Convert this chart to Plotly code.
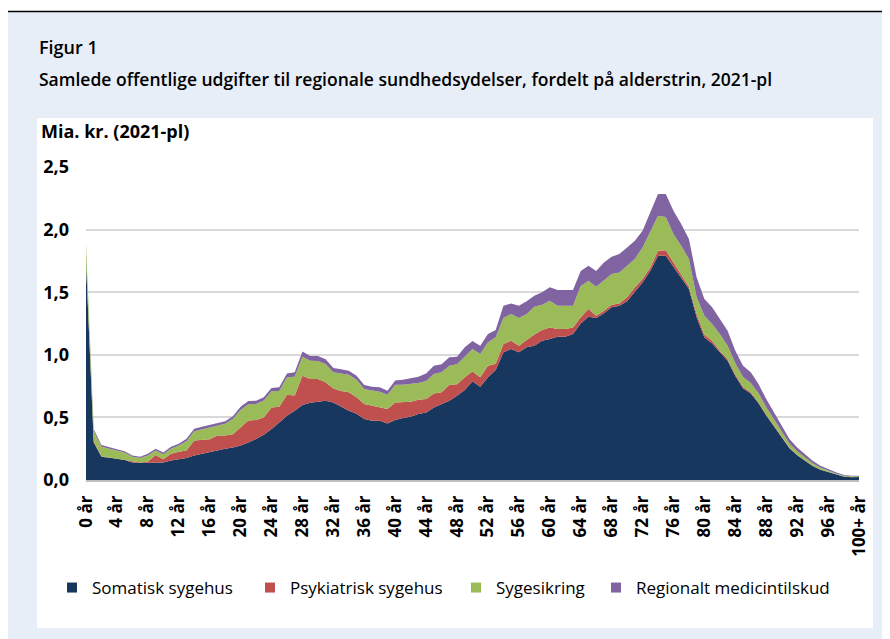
import plotly.graph_objects as go

ages = list(range(0, 101))
tick_vals = list(range(0, 101, 4))
tick_text = [f"{a} år" for a in range(0, 100, 4)] + ["100+ år"]

somatisk = [1.74, 0.30, 0.186, 0.175, 0.17, 0.16, 0.14, 0.135, 0.135, 0.14,
            0.14, 0.155, 0.165, 0.175, 0.195, 0.21, 0.225, 0.235, 0.25, 0.26,
            0.275, 0.30, 0.327, 0.362, 0.407, 0.46, 0.513, 0.553, 0.60, 0.617,
            0.625, 0.633, 0.62, 0.585, 0.553, 0.53, 0.487, 0.474, 0.474, 0.452,
            0.48, 0.495, 0.505, 0.527, 0.54, 0.58, 0.607, 0.633, 0.673, 0.719,
            0.788, 0.745, 0.82, 0.879, 1.02, 1.046, 1.02, 1.06, 1.073, 1.113,
            1.126, 1.145, 1.145, 1.166, 1.25, 1.304, 1.294, 1.331, 1.379, 1.392,
            1.427, 1.498, 1.578, 1.672, 1.792, 1.792, 1.704, 1.618, 1.525, 1.299,
            1.139, 1.091, 1.019, 0.953, 0.83, 0.733, 0.69, 0.614, 0.515, 0.429,
            0.339, 0.253, 0.197, 0.154, 0.112, 0.082, 0.063, 0.041, 0.027, 0.022,
            0.023]
psykiatrisk = [0.0, 0.01, 0.004, 0.005, 0.005, 0.005, 0.01, 0.005, 0.01, 0.06,
               0.025, 0.055, 0.06, 0.06, 0.12, 0.11, 0.10, 0.12, 0.105, 0.105,
               0.145, 0.175, 0.153, 0.138, 0.173, 0.125, 0.167, 0.122, 0.233, 0.19,
               0.182, 0.147, 0.11, 0.125, 0.147, 0.13, 0.12, 0.119, 0.111, 0.115,
               0.14, 0.125, 0.12, 0.113, 0.107, 0.11, 0.093, 0.127, 0.092, 0.101,
               0.079, 0.075, 0.093, 0.05, 0.066, 0.067, 0.053, 0.058, 0.09, 0.085,
               0.093, 0.061, 0.061, 0.053, 0.05, 0.062, 0.018, 0.021, 0.021, 0.018,
               0.032, 0.04, 0.027, 0.026, 0.04, 0.043, 0.034, 0.027, 0.019, 0.027,
               0.021, 0.022, 0.014, 0.013, 0.012, 0.01, 0.01, 0.008, 0.007, 0.006,
               0.005, 0.004, 0.003, 0.003, 0.002, 0.002, 0.001, 0.001, 0.001, 0.001,
               0.001]
sygesikring = [0.13, 0.08, 0.075, 0.07, 0.06, 0.055, 0.035, 0.035, 0.05, 0.035,
               0.04, 0.04, 0.05, 0.075, 0.075, 0.085, 0.095, 0.085, 0.095, 0.125,
               0.14, 0.13, 0.127, 0.135, 0.128, 0.125, 0.14, 0.15, 0.152, 0.146,
               0.143, 0.147, 0.13, 0.14, 0.14, 0.14, 0.12, 0.122, 0.12, 0.113,
               0.14, 0.14, 0.14, 0.135, 0.143, 0.157, 0.16, 0.153, 0.16, 0.165,
               0.179, 0.186, 0.187, 0.211, 0.208, 0.213, 0.221, 0.208, 0.221, 0.202,
               0.213, 0.186, 0.186, 0.173, 0.25, 0.226, 0.232, 0.24, 0.245, 0.248,
               0.253, 0.227, 0.253, 0.293, 0.279, 0.265, 0.227, 0.226, 0.221, 0.133,
               0.152, 0.133, 0.133, 0.107, 0.09, 0.08, 0.075, 0.07, 0.06, 0.05,
               0.045, 0.035, 0.03, 0.025, 0.02, 0.015, 0.012, 0.01, 0.008, 0.006,
               0.005]
medicintilskud = [0.01, 0.015, 0.015, 0.01, 0.01, 0.01, 0.01, 0.01, 0.015, 0.015,
                  0.015, 0.015, 0.015, 0.02, 0.02, 0.02, 0.02, 0.02, 0.02, 0.02,
                  0.025, 0.025, 0.026, 0.025, 0.027, 0.03, 0.03, 0.035, 0.042, 0.037,
                  0.04, 0.038, 0.035, 0.035, 0.033, 0.033, 0.031, 0.03, 0.035, 0.033,
                  0.035, 0.04, 0.045, 0.05, 0.06, 0.066, 0.065, 0.067, 0.06, 0.075,
                  0.064, 0.067, 0.066, 0.058, 0.098, 0.084, 0.098, 0.101, 0.088, 0.10,
                  0.108, 0.125, 0.125, 0.125, 0.12, 0.12, 0.126, 0.146, 0.139, 0.147,
                  0.146, 0.146, 0.132, 0.146, 0.173, 0.184, 0.186, 0.174, 0.16, 0.159,
                  0.134, 0.133, 0.12, 0.12, 0.10, 0.09, 0.085, 0.075, 0.065, 0.055,
                  0.045, 0.035, 0.03, 0.025, 0.02, 0.015, 0.012, 0.009, 0.006, 0.005,
                  0.005]

series = [
    ("Somatisk sygehus", somatisk, "#17375E"),
    ("Psykiatrisk sygehus", psykiatrisk, "#C0504D"),
    ("Sygesikring", sygesikring, "#9BBB59"),
    ("Regionalt medicintilskud", medicintilskud, "#8064A2"),
]
legend_x_px = [52, 250, 456, 596]   # page pixels

W, H = 890, 639
OFF = 8  # browser body margin
# plot area in page pixels: x 86..859, y 167..480
L, R, T, B = 86 - OFF, W - (859 - OFF), 167 - OFF, H - (480 - OFF)
PW, PH = W - L - R, H - T - B

def px(x):
    return (x - OFF - L) / PW

def py(y):
    return (H - B - (y - OFF)) / PH

FONT = "'Open Sans', Lato, sans-serif"

fig = go.Figure()
for name, vals, col in series:
    fig.add_trace(go.Scatter(
        x=ages, y=vals, name=name, stackgroup="one", mode="lines",
        line=dict(width=0, color=col), fillcolor=col, showlegend=False,
        hoverinfo="skip"))
for i, (name, vals, col) in enumerate(series):
    lg = "legend" if i == 0 else f"legend{i + 1}"
    fig.add_trace(go.Scatter(
        x=[None], y=[None], name=name, mode="markers",
        marker=dict(symbol="square", size=10, color=col),
        legend=lg, showlegend=True))

layout_legends = {}
for i, xp in enumerate(legend_x_px):
    key = "legend" if i == 0 else f"legend{i + 1}"
    layout_legends[key] = dict(
        xref="container", yref="container", x=(xp - OFF) / W, y=1 - (588 - OFF) / H,
        xanchor="left", yanchor="middle", orientation="h",
        bgcolor="rgba(0,0,0,0)", itemwidth=30,
        font=dict(family=FONT, size=17, color="#000000"))

fig.update_layout(
    width=W, height=H,
    margin=dict(l=L, r=R, t=T, b=B, pad=0),
    paper_bgcolor="#E8EEF7",
    plot_bgcolor="rgba(0,0,0,0)",
    separators=",.",
    showlegend=True,
    **layout_legends,
    xaxis=dict(
        range=[0, 100], tickmode="array", tickvals=tick_vals, ticktext=tick_text,
        tickangle=-90, showgrid=False, zeroline=False,
        showline=True, linecolor="#BFBFBF", linewidth=1.5,
        ticks="", ticklabelstandoff=7,
        tickfont=dict(family=FONT, size=17, color="#000000", weight="bold")),
    yaxis=dict(
        range=[0, 2.5], tickvals=[0, 0.5, 1.0, 1.5, 2.0, 2.5], tickformat=".1f",
        showgrid=True, gridcolor="#D9D9D9", gridwidth=2, zeroline=False,
        showline=False, ticks="", ticklabelstandoff=16,
        tickfont=dict(family=FONT, size=18, color="#000000", weight="bold")),
    shapes=[
        dict(type="rect", xref="paper", yref="paper", layer="below",
             x0=px(0), x1=px(W + OFF), y0=py(0), y1=py(11), fillcolor="#FFFFFF", line_width=0),
        dict(type="line", xref="paper", yref="paper", layer="below",
             x0=px(8), x1=px(W + OFF), y0=py(11.5), y1=py(11.5), line=dict(color="#000000", width=1.5)),
        dict(type="rect", xref="paper", yref="paper", layer="below",
             x0=px(37), x1=px(873), y0=py(628), y1=py(118), fillcolor="#FFFFFF", line_width=0),
    ],
    annotations=[
        dict(text="Figur 1", xref="paper", yref="paper", x=px(37), y=py(47),
             xanchor="left", yanchor="middle", showarrow=False,
             font=dict(family=FONT, size=18, color="#000000", weight=600)),
        dict(text="Samlede offentlige udgifter til regionale sundhedsydelser, fordelt på alderstrin, 2021-pl",
             xref="paper", yref="paper", x=px(37), y=py(79),
             xanchor="left", yanchor="middle", showarrow=False,
             font=dict(family=FONT, size=17.5, color="#000000", weight=600)),
        dict(text="Mia. kr. (2021-pl)", xref="paper", yref="paper", x=px(39), y=py(131),
             xanchor="left", yanchor="middle", showarrow=False,
             font=dict(family=FONT, size=18, color="#000000", weight=700)),
    ],
)

fig.write_html("out.html")
